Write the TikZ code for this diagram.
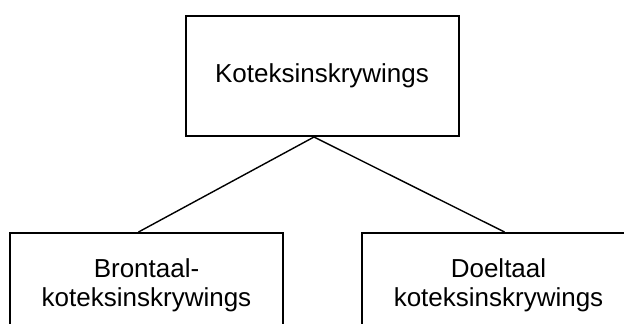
\documentclass[tikz,border=0pt]{standalone}
\usepackage{fontspec}
\setmainfont{Liberation Sans}

\begin{document}
\begin{tikzpicture}[
  x=0.5pt, y=-0.5pt,
  entry/.style={rectangle, draw=black, line width=1pt, align=center, inner sep=0pt, minimum width=136.5pt, font=\fontsize{13}{14.5}\selectfont},
  link/.style={draw=black, line width=0.7pt}
]
\useasboundingbox (0,0) rectangle (624,323);
\clip (0,0) rectangle (624,323);

\node[entry, minimum height=60pt] (main) at (322,76) {Koteksinskrywings};
\node[entry, minimum height=52pt, anchor=north] (source) at (146.5,232) {Brontaal-\\koteksinskrywings};
\node[entry, minimum height=52pt, anchor=north] (target) at (498.5,232) {Doeltaal\\koteksinskrywings};

\draw[link] ([xshift=-4pt]main.south) -- ([xshift=-4pt]source.north);
\draw[link] ([xshift=-4pt]main.south) -- ([xshift=3pt]target.north);

\end{tikzpicture}
\end{document}
